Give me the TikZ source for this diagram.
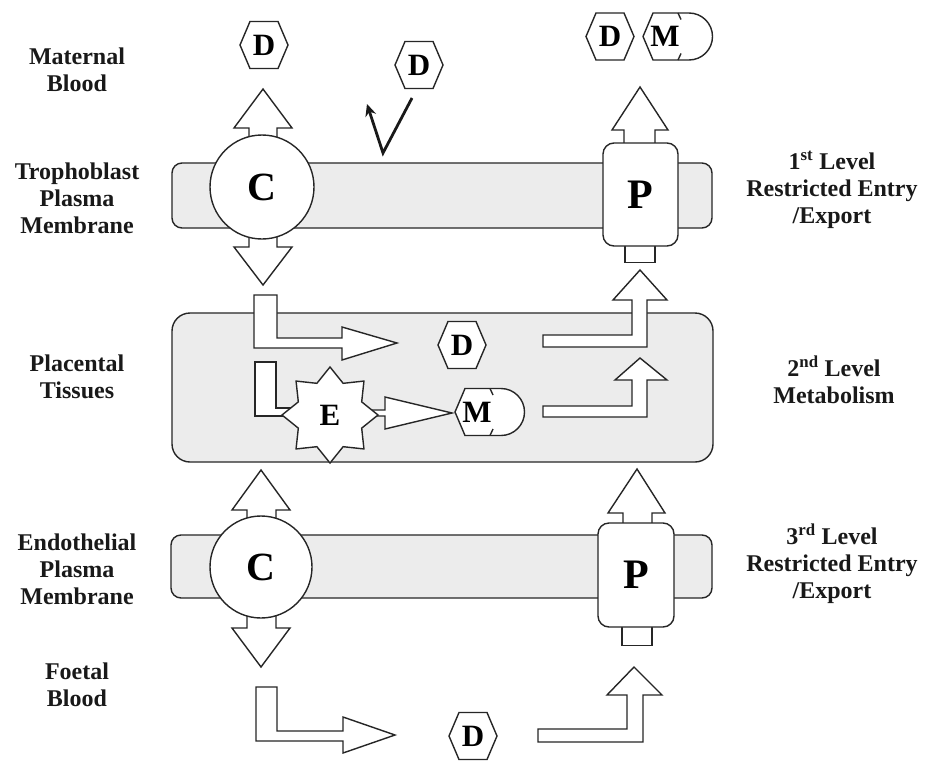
\documentclass[tikz,border=0pt]{standalone}
\usepackage{fontspec}
\setmainfont{Liberation Serif}
\usetikzlibrary{shapes.geometric,arrows.meta}
\begin{document}
\begin{tikzpicture}[x=1pt,y=-1pt,
  ln/.style={draw=black!85,line width=1.4pt,line join=miter},
  bar/.style={ln,fill=gray!15},
  blk/.style={ln,fill=white},
  lbl/.style={align=center,font=\bfseries\fontsize{24}{27}\selectfont,text=black!90},
  big/.style={font=\bfseries\fontsize{40}{40}\selectfont},
  sml/.style={font=\bfseries\fontsize{31}{31}\selectfont},
  hexa/.pic={\draw[blk] (-14,-23.5) -- (14,-23.5) -- (24,0) -- (14,23.5) -- (-14,23.5) -- (-24,0) -- cycle;},
  mcap/.pic={\draw[blk] (-35,0) -- (-25,-23.5) -- (11,-23.5) arc[start angle=-90,end angle=90,radius=23.5] -- (-25,23.5) -- cycle;
             \draw[ln] (0,-23.5) -- (3,-17); \draw[ln] (0,23.5) -- (3,17);}
]
\useasboundingbox (0,0) rectangle (925,760);
\fill[white] (0,0) rectangle (925,760);

% bars
\draw[bar,rounded corners=10pt] (172,163) rectangle (712,228);
\draw[bar,rounded corners=18pt] (172,313) rectangle (713,462);
\draw[bar,rounded corners=10pt] (171,535) rectangle (712,598);

% block arrows around top C
\draw[blk] (249,150) -- (249,128) -- (234,128) -- (263,89) -- (292,128) -- (277,128) -- (277,150);
\draw[blk] (249,225) -- (249,247) -- (234,247) -- (263,285) -- (292,247) -- (277,247) -- (277,225);
% block arrow above top P
\draw[blk] (624,150) -- (624,130) -- (612,130) -- (640,87) -- (668,130) -- (655,130) -- (655,150);

% middle L arrows (left)
\draw[blk] (254,295) -- (254,348) -- (342,348) -- (342,360) -- (397,343) -- (342,327) -- (342,338) -- (277,338) -- (277,295) -- cycle;
\draw[blk] (255,362) -- (255,416) -- (300,416) -- (300,408) -- (276,408) -- (276,362) -- cycle;
% E to M arrow
\draw[blk] (360,410) -- (385,410) -- (385,397) -- (452,413) -- (385,429) -- (385,416) -- (360,416) -- cycle;

% middle L arrows (right)
\draw[blk] (543,335) -- (632,335) -- (632,300) -- (613,300) -- (640,270) -- (667,300) -- (647,300) -- (647,347) -- (543,347) -- cycle;
\draw[blk] (543,406) -- (632,406) -- (632,380) -- (615,380) -- (640,358) -- (667,380) -- (647,380) -- (647,417) -- (543,417) -- cycle;

% block arrows around bottom C
\draw[blk] (247,525) -- (247,510) -- (232,510) -- (261,470) -- (290,510) -- (276,510) -- (276,525);
\draw[blk] (247,605) -- (247,628) -- (232,628) -- (261,667) -- (290,628) -- (276,628) -- (276,605);
% block arrow above bottom P
\draw[blk] (623,530) -- (623,513) -- (608,513) -- (637,469) -- (665,513) -- (652,513) -- (652,530);

% bottom L arrows
\draw[blk] (256,687) -- (256,741) -- (343,741) -- (343,753) -- (395,735) -- (343,717) -- (343,731) -- (277,731) -- (277,687) -- cycle;
\draw[blk] (538,729) -- (627,729) -- (627,695) -- (607,695) -- (634,667) -- (662,695) -- (643,695) -- (643,742) -- (538,742) -- cycle;

% carriers and pumps
\node[circle,blk,minimum size=104pt,inner sep=0pt,big] (c1) at (262,187) {C};
\node[circle,blk,minimum size=102pt,inner sep=0pt,big] (c2) at (261,567) {C};
\node[rectangle,blk,minimum width=30pt,minimum height=18pt,inner sep=0pt,anchor=north] (p1s) at (640,244) {};
\node[rectangle,blk,rounded corners=11pt,minimum width=75pt,minimum height=103pt,inner sep=0pt,font=\bfseries\fontsize{42}{42}\selectfont] (p1) at (640.5,194.5) {P};
\node[rectangle,blk,minimum width=30pt,minimum height=20pt,inner sep=0pt,anchor=north] (p2s) at (637,625) {};
\node[rectangle,blk,rounded corners=11pt,minimum width=76pt,minimum height=104pt,inner sep=0pt,font=\bfseries\fontsize{42}{42}\selectfont] (p2) at (636,575) {P};

% enzyme star
\node[star,star points=8,star point ratio=1.4,minimum size=96pt,inner sep=0pt,blk,sml] (e) at (330,415) {E};

% drugs and metabolites
\pic at (264,45) {hexa}; \node[sml] (d1) at (264,45) {D};
\pic at (419,65) {hexa}; \node[sml] (d2) at (419,65) {D};
\pic at (610,36.5) {hexa}; \node[sml] (d3) at (610,36.5) {D};
\pic at (678,36.5) {mcap}; \node[sml] (m1) at (665,36.5) {M};
\pic at (462,345) {hexa}; \node[sml] (d4) at (462,345) {D};
\pic at (490,412) {mcap}; \node[sml] (m2) at (477,412) {M};
\pic at (473,736) {hexa}; \node[sml] (d5) at (473,736) {D};

% check-mark arrow
\coordinate (k1) at (412,98);
\coordinate (k2) at (383,153);
\coordinate (k3) at (367,104);
\draw[line width=2.8pt,draw=black!90,line join=miter,-{Stealth[length=12pt,width=11pt]}] (k1) -- (k2) -- (k3);

% labels
\node[lbl] (lmat) at (77,70) {Maternal\\Blood};
\node[lbl] (ltro) at (77,198) {Trophoblast\\Plasma\\Membrane};
\node[lbl] (lpla) at (77,377) {Placental\\Tissues};
\node[lbl] (lend) at (77,569) {Endothelial\\Plasma\\Membrane};
\node[lbl] (lfoe) at (77,685) {Foetal\\Blood};
\node[lbl] (r1) at (832,190) {1\textsuperscript{st} Level\\Restricted Entry\\/Export};
\node[lbl] (r2) at (834,380) {2\textsuperscript{nd} Level\\Metabolism};
\node[lbl] (r3) at (832,564) {3\textsuperscript{rd} Level\\Restricted Entry\\/Export};
\end{tikzpicture}
\end{document}
